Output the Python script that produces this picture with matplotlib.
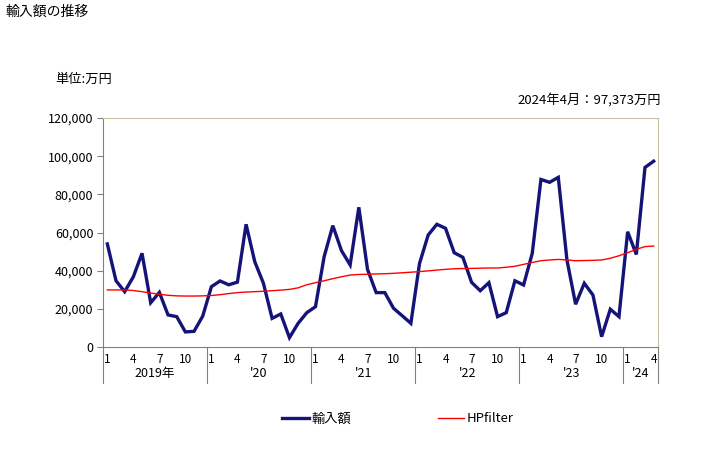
import numpy as np
import matplotlib.pyplot as plt
from matplotlib.transforms import blended_transform_factory

plt.rcParams['font.family'] = ['Noto Sans CJK JP', 'DejaVu Sans']

# monthly import value (万円), Jan 2019 .. Apr 2024
imports = [
    54000, 34700, 29000, 36800, 49100, 23200, 28600, 16800, 15900, 7900, 8200, 16200,   # 2019
    31600, 34600, 32600, 34000, 64300, 44700, 33400, 15000, 17300, 4900, 12400, 18000,  # 2020
    21100, 47300, 63600, 50500, 43000, 73200, 40700, 28500, 28500, 20300, 16400, 12400, # 2021
    43800, 58700, 64300, 62200, 49400, 47000, 33900, 29500, 33700, 15900, 18000, 34700, # 2022
    32500, 49100, 87800, 86300, 88900, 45600, 22400, 33400, 27200, 5400, 19800, 15900,  # 2023
    60400, 48500, 94100, 97373,                                                          # 2024
]
hp_filter = [
    29900, 29900, 29900, 29600, 29000, 28300, 27600, 27100, 26800, 26700, 26700, 26800,
    27000, 27400, 28000, 28500, 28800, 29000, 29200, 29500, 29800, 30200, 31000, 32600,
    33700, 34700, 35800, 36800, 37700, 38000, 38100, 38300, 38400, 38600, 38900, 39200,
    39500, 39900, 40300, 40700, 41000, 41100, 41200, 41300, 41400, 41400, 41800, 42300,
    43300, 44300, 45200, 45600, 45900, 45600, 45200, 45300, 45400, 45600, 46500, 47800,
    49400, 51200, 52600, 52900,
]
months = [(i % 12) + 1 for i in range(len(imports))]
year_labels = ['2019年', "'20", "'21", "'22", "'23", "'24"]
y_ticks = [0, 20000, 40000, 60000, 80000, 100000, 120000]

x = np.arange(len(imports))

fig = plt.figure(figsize=(7.28, 4.5), dpi=100)
ax = fig.add_axes([103 / 728, 1 - 347 / 450, 555 / 728, 229 / 450])

ax.plot(x, imports, color='#141478', lw=2.4, label='輸入額', solid_joinstyle='miter')
ax.plot(x, hp_filter, color='#ff0000', lw=1.0, label='HPfilter')

ax.set_xlim(-0.5, len(imports) - 0.5)
ax.set_ylim(0, 120000)
ax.set_yticks(y_ticks)
ax.set_yticklabels(['{:,}'.format(v) for v in y_ticks], fontsize=9)
ax.tick_params(axis='y', length=4, color='#808080', pad=3)

# month labels under axis
tick_idx = [i for i, m in enumerate(months) if m in (1, 4, 7, 10)]
ax.set_xticks(tick_idx)
ax.set_xticklabels([str(months[i]) for i in tick_idx], fontsize=8.5)
ax.tick_params(axis='x', length=0, pad=4)

for side in ['left', 'bottom']:
    ax.spines[side].set_color('#808080')
for side in ['top', 'right']:
    ax.spines[side].set_color('#c8c0a0')

# year separators and year labels
trans = blended_transform_factory(ax.transData, ax.transAxes)
bounds = list(range(0, len(imports), 12)) + [len(imports)]
for b in bounds:
    ax.plot([b - 0.5, b - 0.5], [0, -0.157], transform=trans,
            color='#808080', lw=0.8, clip_on=False)
for k, lab in enumerate(year_labels):
    mid = (bounds[k] + bounds[k + 1]) / 2 - 0.5
    ax.text(mid, -0.115, lab, transform=trans, ha='center', va='center', fontsize=9)

fig.text(5 / 728, 1 - 12 / 450, '輸入額の推移', fontsize=10, va='center', ha='left')
fig.text(55 / 728, 1 - 79 / 450, '単位:万円', fontsize=9.5, va='center', ha='left')
fig.text(661 / 728, 1 - 100 / 450, '2024年4月：97,373万円', fontsize=9.5, va='center', ha='right')

fig.legend(loc='center', bbox_to_anchor=(398 / 728, 1 - 419 / 450), ncol=2,
           frameon=False, fontsize=9.5, handlelength=2.0, handletextpad=0.2,
           columnspacing=6.6)

fig.savefig('out.png', dpi=100)
